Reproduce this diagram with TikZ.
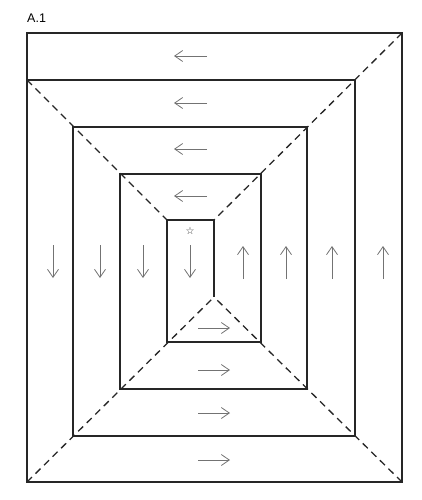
\documentclass[tikz,border=0pt]{standalone}
\usepackage{fontspec}
\setmainfont{Liberation Sans}
\newfontfamily\symfont{DejaVu Sans}
\usetikzlibrary{arrows.meta}
\tikzset{
  wall/.style={draw=black!85, line width=1.3pt},
  seam/.style={draw=black!85, line width=1.3pt, dash pattern=on 7pt off 5pt},
  dir/.style={draw=black!55, line width=0.8pt, -{Straight Barb[length=8pt,width=11pt]}}
}
\begin{document}
\begin{tikzpicture}[x=1pt,y=-1pt]
\useasboundingbox (0,0) rectangle (421,500);
\node [anchor=base west, inner sep=0pt, font=\fontsize{12.5}{13}\selectfont] (title) at (27,23) {A.1};
% frame and spiral
\draw [wall] (27,33) rectangle (402,482);
\draw [wall] (27,80) -- (355,80) -- (355,436) -- (73,436) -- (73,127)
  -- (307,127) -- (307,389) -- (120,389) -- (120,174) -- (261,174)
  -- (261,342) -- (167,342) -- (167,220) -- (214,220) -- (214,297);
% corner seams
\draw [seam] (27,80) -- (167,220);
\draw [seam] (402,33) -- (214,220);
\draw [seam] (27,482) -- (214,297);
\draw [seam] (402,482) -- (214,297);
% start mark
\node [inner sep=0pt, text=black!80, font=\symfont\fontsize{10}{10}\selectfont] (start) at (190,231) {☆};
% directions
\draw [dir] (207,56) -- (174,56);
\draw [dir] (207,103) -- (174,103);
\draw [dir] (207,149) -- (174,149);
\draw [dir] (207,196) -- (174,196);
\draw [dir] (53,245) -- (53,278);
\draw [dir] (100,245) -- (100,278);
\draw [dir] (143,245) -- (143,278);
\draw [dir] (190,245) -- (190,278);
\draw [dir] (243,279) -- (243,246);
\draw [dir] (286,279) -- (286,246);
\draw [dir] (332,279) -- (332,246);
\draw [dir] (383,279) -- (383,246);
\draw [dir] (198,328) -- (230,328);
\draw [dir] (198,370) -- (230,370);
\draw [dir] (198,413) -- (230,413);
\draw [dir] (198,460) -- (230,460);
\end{tikzpicture}
\end{document}
